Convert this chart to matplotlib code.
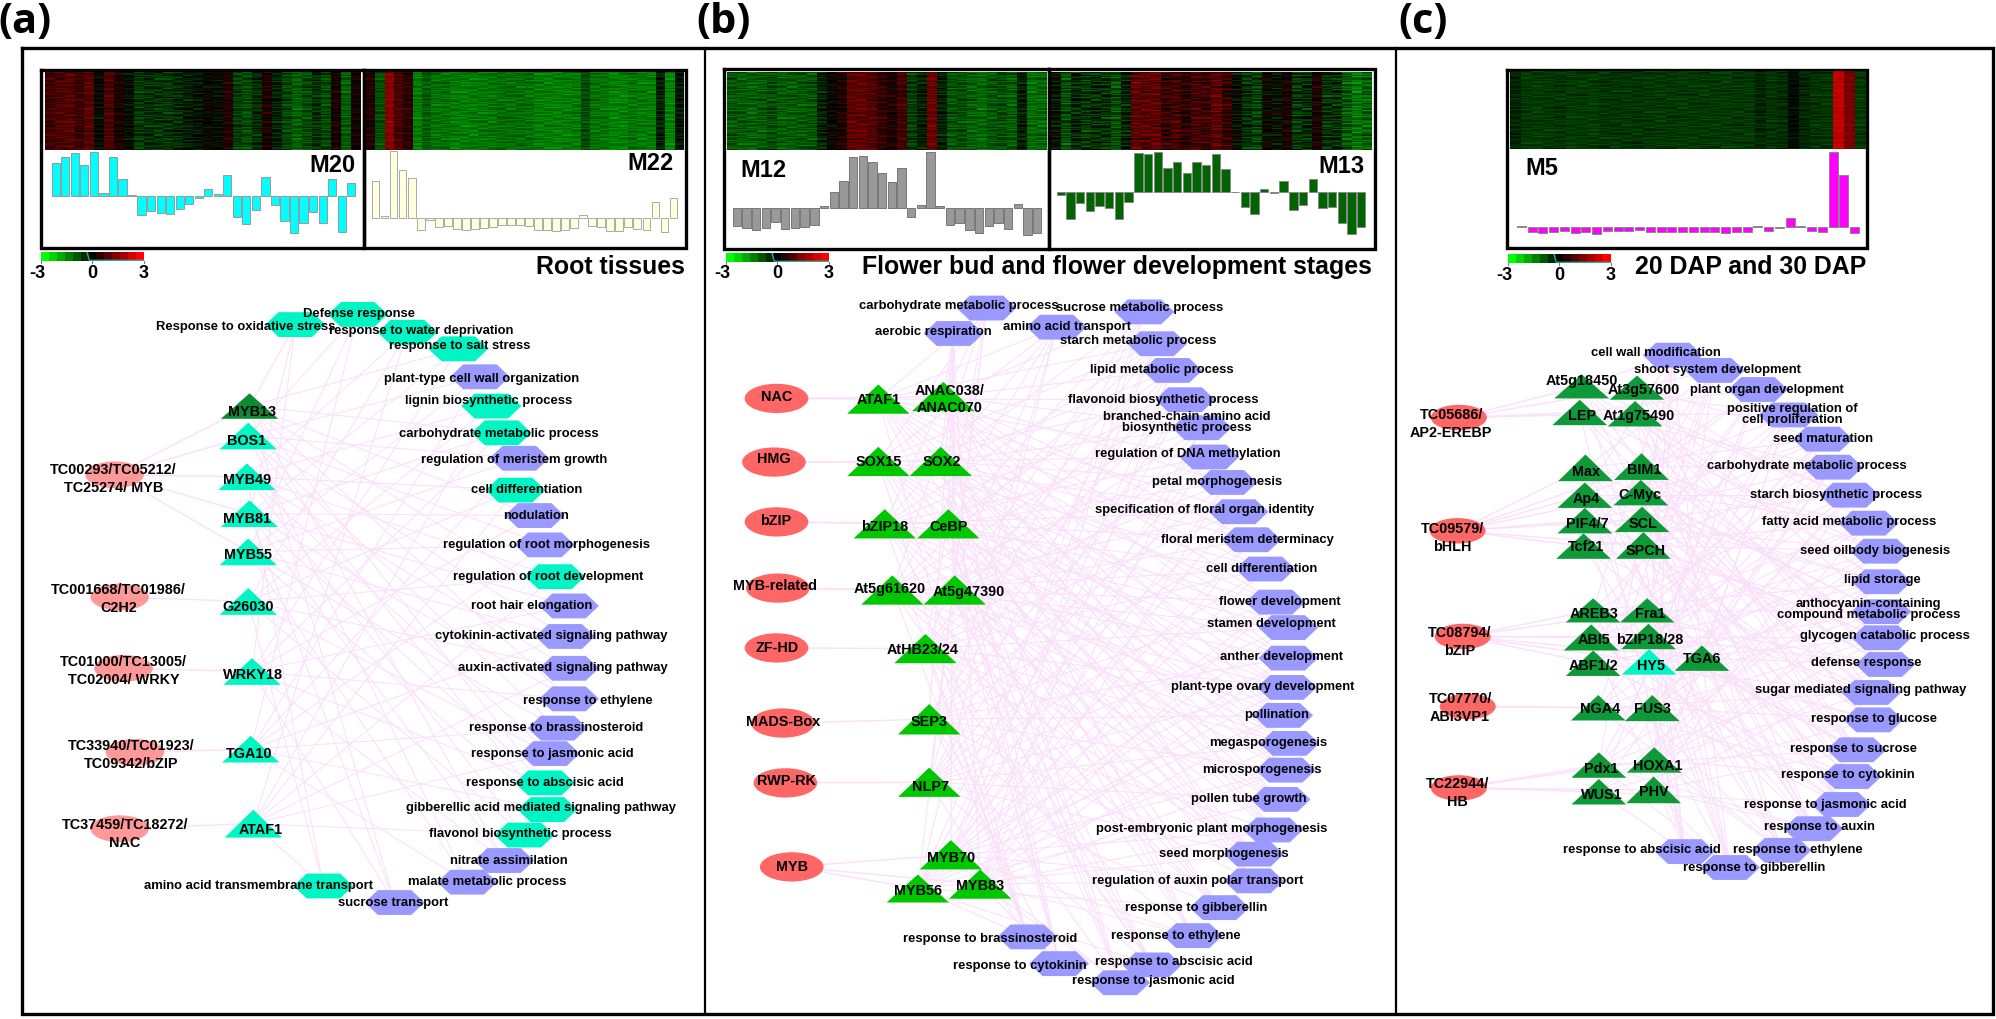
"""Co-expression modules (heatmap + bar profile) and TF / GO networks, three panels."""

import numpy as np
import matplotlib
matplotlib.use("Agg")
import matplotlib.pyplot as plt
from matplotlib.colors import LinearSegmentedColormap
from matplotlib.patches import Ellipse, Polygon

W, H = 1996, 1019
S = W / 1568

# Module bar profiles
M20 = [3.3, 3.9, 4.3, 3.1, 4.4, 0.3, 3.9, 1.7, 0.1, -1.9, -1.5, -1.7, -1.8, -1.3, -0.8, -0.2,
       0.7, 0.2, 2.1, -2.1, -2.8, -1.4, 1.9, -0.9, -2.5, -3.7, -2.7, -1.6, -2.7, 1.7, -3.6, 1.3]
M22 = [3.7, 0.2, 6.7, 4.8, 4.0, -1.2, -0.2, -0.9, -0.8, -1.1, -1.2, -1.1, -1.0, -0.9, -0.7, -0.7,
       -0.7, -0.8, -1.2, -1.2, -1.3, -1.2, -1.0, 0.3, -0.8, -0.9, -1.3, -1.3, -0.9, -1.1, -1.2, 1.6, -1.4, 2.0]
M12 = [-1.8, -2.0, -2.2, -2.0, -1.4, -2.1, -2.0, -1.9, -1.7, 0.2, 1.6, 2.7, 5.1, 5.2, 4.6, 3.5,
       2.6, 4.0, -0.9, 0.3, 5.6, 0.2, -1.7, -1.5, -2.2, -2.5, -1.8, -1.5, -2.1, 0.4, -2.7, -2.5]
M13 = [-0.3, -2.7, -1.1, -1.9, -1.4, -1.6, -2.7, -1.0, 3.9, 3.8, 4.0, 2.4, 3.0, 1.9, 3.0,
       2.7, 3.8, 2.3, 0.0, -1.5, -2.2, 0.3, -0.1, 1.1, -1.8, -1.3, 1.3, -1.6, -1.5, -3.1, -4.2, -3.5]
M5 = [0.05, -0.55, -0.65, -0.55, -0.4, -0.65, -0.55, -0.7, -0.4, -0.4, -0.45, -0.35, -0.5, -0.55, -0.5, -0.55,
      -0.55, -0.55, -0.55, -0.6, -0.5, -0.55, 0.05, -0.4, -0.15, 0.9, 0.03, -0.4, -0.5, 7.5, 5.2, -0.65]

# gene to gene variation in the heatmaps
STRIPES = [0.5, -0.3, 0.1, -0.6, 0.3, 0.7, -0.2, -0.5, 0.2, 0.0, -0.7, 0.4, 0.6, -0.1, -0.4, 0.3,
           -0.2, 0.8, -0.5, 0.1, 0.4, -0.6, 0.2, -0.3, 0.6, -0.1, 0.0, -0.4, 0.5, -0.8, 0.3]

# Panel a network
A_TF = ["TC00293/TC05212/\nTC25274/ MYB", "TC001668/TC01986/\nC2H2", "TC01000/TC13005/\nTC02004/ WRKY",
        "TC33940/TC01923/\nTC09342/bZIP", "TC37459/TC18272/\nNAC"]
A_TF_POS = [(90, 373, 89, 376), (94, 469, 93, 470.5), (97, 525, 97, 527), (106, 591, 103, 593), (94, 651, 98, 655)]
A_TF_LINKS = [[0, 1, 2, 3, 4], [5], [6], [7], [8]]
A_GENE = ["MYB13", "BOS1", "MYB49", "MYB81", "MYB55", "G26030", "WRKY18", "TGA10", "ATAF1"]
A_GENE_POS = [(196, 309, 329, 198, 323.5), (195, 332, 353, 194, 346.5), (194, 364, 385, 194, 377),
              (196, 393, 414, 194, 408), (195, 423, 444, 195, 436), (195, 462, 483, 195, 477),
              (198, 517, 538, 199, 530), (197, 578, 599, 196, 592), (199, 636, 658, 205, 652)]
A_GENE_DARK = [0]
A_GO = ["Response to oxidative stress", "Defense response", "response to water deprivation", "response to salt stress",
        "plant-type cell wall organization", "lignin biosynthetic process", "carbohydrate metabolic process",
        "regulation of meristem growth", "cell differentiation", "nodulation", "regulation of root morphogenesis",
        "regulation of root development", "root hair elongation", "cytokinin-activated signaling pathway",
        "auxin-activated signaling pathway", "response to ethylene", "response to brassinosteroid",
        "response to jasmonic acid", "response to abscisic acid", "gibberellic acid mediated signaling pathway",
        "flavonol biosynthetic process", "nitrate assimilation", "malate metabolic process",
        "amino acid transmembrane transport", "sucrose transport"]
A_GO_POS = [(193, 257, 232, 255), (282, 247, 281, 247), (331, 260, 320, 261), (361, 272, 360, 274),
            (378, 298, 377, 296), (384, 315, 386, 319), (392, 341, 394, 340), (404, 361, 408, 360),
            (414, 385, 405, 385), (421, 405, 420, 405), (429, 428, 428, 428), (431, 453, 436, 453),
            (418, 476, 447, 476), (433, 500, 444, 500), (442, 525, 447, 525), (462, 551, 447, 549),
            (437, 572, 438, 572), (434, 592, 432, 592), (428, 615, 428, 615), (425, 635, 430, 636),
            (409, 655, 412, 656), (400, 676, 396, 676), (383, 693, 367, 693), (203, 696, 254, 696),
            (309, 709, 310, 709)]
A_GO_TEAL = [0, 1, 2, 3, 5, 6, 8, 11, 18, 19, 20, 23]

# Panel b network
B_TF = ["NAC", "HMG", "bZIP", "MYB-related", "ZF-HD", "MADS-Box", "RWP-RK", "MYB"]
B_TF_POS = [(610, 313, 610, 312), (608, 363, 608, 360.5), (610, 410, 609.5, 409), (611, 462, 609, 460),
            (610, 509, 610.5, 509), (615, 568, 615, 567), (617, 615, 617.5, 613.5), (622, 681, 622, 681)]
B_TF_LINKS = [[0, 1], [2, 3], [4, 5], [6, 7], [8], [9], [10], [11, 12, 13]]
B_GENE = ["ATAF1", "ANAC038/\nANAC070", "SOX15", "SOX2", "bZIP18", "CeBP", "At5g61620", "At5g47390",
          "AtHB23/24", "SEP3", "NLP7", "MYB70", "MYB56", "MYB83"]
B_GENE_POS = [(690, 302, 325, 690, 314), (741, 300, 323, 746, 314), (690, 351, 374, 690.5, 363),
              (739, 351, 374, 740, 363), (695, 400, 423, 695, 414), (745, 400, 423, 745.5, 414),
              (701, 452, 475, 699, 463), (750, 452, 475, 761, 465), (727, 498, 521, 725, 511),
              (730, 553, 577, 730, 567), (730, 603, 626, 731, 618), (747, 660, 683, 747, 674),
              (721, 687, 709, 721, 700), (770, 683, 706, 770, 696)]
B_GO = ["carbohydrate metabolic process", "aerobic respiration", "amino acid transport", "sucrose metabolic process",
        "starch metabolic process", "lipid metabolic process", "flavonoid biosynthetic process",
        "branched-chain amino acid\nbiosynthetic process", "regulation of DNA methylation", "petal morphogenesis",
        "specification of floral organ identity", "floral meristem determinacy", "cell differentiation",
        "flower development", "stamen development", "anther development", "plant-type ovary development",
        "pollination", "megasporogenesis", "microsporogenesis", "pollen tube growth",
        "post-embryonic plant morphogenesis", "seed morphogenesis", "regulation of auxin polar transport",
        "response to gibberellin", "response to ethylene", "response to brassinosteroid", "response to cytokinin",
        "response to abscisic acid", "response to jasmonic acid"]
B_GO_POS = [(753, 240, 775, 242), (733, 261, 749, 262), (838, 257, 830, 257), (895, 242, 899, 245),
            (894, 268, 909, 270), (913, 291, 921, 291), (914, 314, 931, 314), (932, 332, 944, 336),
            (933, 357, 950, 359), (956, 378.5, 964, 379), (946, 401, 973, 402), (980, 424, 983, 424),
            (991, 447, 994, 447), (1005, 473, 1002, 473), (999, 490, 1012, 493), (1007, 516, 1012, 517),
            (992, 540, 1011, 540), (1003, 562, 1008, 562), (996, 584, 1013, 584), (991, 605, 1010, 605),
            (981, 628, 1006, 628), (952, 651, 1000, 652), (961, 671, 985, 671), (941, 692, 985, 692),
            (940, 713, 958, 713), (924, 735, 937, 735), (778, 738, 807, 736), (801, 759, 832, 757),
            (922, 756, 905, 758), (906, 771, 880, 772)]

# Panel c network
C_TF = ["TC05686/\nAP2-EREBP", "TC09579/\nbHLH", "TC08794/\nbZIP", "TC07770/\nABI3VP1", "TC22944/\nHB"]
C_TF_POS = [(1146, 328, 1140, 333), (1145, 417, 1141, 422.5), (1149, 500, 1147, 504.5),
            (1153, 555, 1147, 556), (1146, 619, 1145, 623)]
C_TF_LINKS = [[0, 1, 2, 3], [4, 5, 6, 7, 8, 9, 10, 11], [12, 13, 14, 15, 16, 17, 18], [19, 20], [21, 22, 23, 24]]
C_GENE = ["At5g18450", "At3g57600", "LEP", "At1g75490", "Max", "BIM1", "Ap4", "C-Myc", "PIF4/7", "SCL", "Tcf21", "SPCH",
          "AREB3", "Fra1", "ABI5", "bZIP18/28", "ABF1/2", "HY5", "TGA6", "NGA4", "FUS3", "Pdx1", "HOXA1", "WUS1", "PHV"]
C_GENE_POS = [(1242.5, 294, 313, 1243, 299), (1286, 295, 314, 1291, 306), (1241, 314, 334, 1243, 327),
              (1284.5, 315, 335, 1287, 327), (1245.5, 357, 378, 1246, 371), (1289.5, 356, 377, 1292, 369),
              (1245, 379, 399, 1246, 392), (1289, 377, 397, 1288, 389), (1245, 399, 419, 1247, 412),
              (1290, 398, 418, 1291, 412), (1244, 419, 439, 1246, 430), (1291, 418, 439, 1293, 433),
              (1251.5, 470, 489, 1252, 482), (1294, 470, 489, 1296, 482), (1250, 490.5, 511, 1252, 503),
              (1295, 490, 510, 1296, 502.5), (1251.5, 511, 531, 1252, 523.5), (1295.5, 510, 530, 1297, 523.5),
              (1337, 507, 527, 1337, 518), (1255.5, 546, 566, 1257, 557), (1298, 546, 566.5, 1298, 557),
              (1256, 591, 611, 1258, 604), (1299.5, 587, 607, 1302, 602), (1256, 612, 632, 1258, 624.5),
              (1299, 610, 631, 1299.5, 622)]
C_GENE_TEAL = [17]
C_GO = ["cell wall modification", "shoot system development", "plant organ development",
        "positive regulation of\ncell proliferation", "seed maturation", "carbohydrate metabolic process",
        "starch biosynthetic process", "fatty acid metabolic process", "seed oilbody biogenesis", "lipid storage",
        "anthocyanin-containing\ncompound metabolic process", "glycogen catabolic process", "defense response",
        "sugar mediated signaling pathway", "response to glucose", "response to sucrose", "response to cytokinin",
        "response to jasmonic acid", "response to auxin", "response to ethylene", "response to abscisic acid",
        "response to gibberellin"]
C_GO_POS = [(1301, 277.5, 1314, 279), (1349, 291, 1347, 291), (1388, 306, 1381, 306), (1408, 325.5, 1405, 326),
            (1432, 345, 1432, 345), (1419.5, 366, 1440, 367), (1442, 389, 1453, 389), (1453, 410, 1468, 411),
            (1473, 433, 1477, 433), (1478.5, 456, 1478, 457), (1468, 478.5, 1478, 480.5), (1481, 500, 1478, 501),
            (1466, 521, 1481, 522), (1462, 542, 1470, 544), (1472, 565, 1471.5, 565.5), (1456, 588, 1458.5, 589),
            (1451.5, 609, 1454.5, 610), (1434, 632, 1446.5, 632), (1429.5, 650, 1424.5, 651), (1412, 668, 1399.5, 668),
            (1290, 668, 1323.5, 669), (1378, 681.5, 1359, 681.5)]

FONT = "Liberation Sans"
PURPLE, TEAL, EDGE = "#9999FF", "#00F5C4", "#FBDFFB"
CMAP = LinearSegmentedColormap.from_list("gbr", ["#00FF00", "#000000", "#FF0000"])

fig = plt.figure(figsize=(W / 100, H / 100), dpi=100)
ax = fig.add_axes([0, 0, 1, 1])
ax.set_xlim(0, W)
ax.set_ylim(H, 0)
ax.axis("off")


def px_axes(x0, y0, x1, y1):
    """Axes placed by pixel box, y counted from the top."""
    a = fig.add_axes([x0 / W, 1 - y1 / H, (x1 - x0) / W, (y1 - y0) / H])
    a.axis("off")
    return a


def box(x0, y0, x1, y1, lw=2.4):
    ax.plot([x0, x1, x1, x0, x0], [y0, y0, y1, y1, y0], color="black", lw=lw, zorder=6, solid_joinstyle="miter")


def module(values, heat_box, bar_x, base, color, edge, gain, offset, stripe, name, name_xy):
    n = len(values)
    col = gain * np.array(values) + offset
    matrix = np.zeros((60, n))
    for r in range(60):
        for c in range(n):
            matrix[r, c] = col[c] + stripe * STRIPES[(r + 5 * c) % len(STRIPES)]
    hx = px_axes(*heat_box)
    hx.imshow(matrix, cmap=CMAP, vmin=-3, vmax=3, aspect="auto", interpolation="nearest")
    bx = px_axes(bar_x[0], base - 75, bar_x[1], base + 75)
    bx.bar(np.arange(n), values, width=0.86, color=color, edgecolor=edge, linewidth=0.7)
    bx.set_xlim(-0.5, n - 0.5)
    bx.set_ylim(-7.5, 7.5)
    ax.text(name_xy[0], name_xy[1], name, fontsize=17, fontweight="bold", family=FONT, ha="center", va="center", zorder=7)


def colorbar(x0, x1, y0, y1):
    cx = px_axes(x0, y0, x1, y1)
    cx.imshow(np.linspace(-3, 3, 13)[None, :], cmap=CMAP, vmin=-3, vmax=3, aspect="auto", interpolation="nearest")
    cx.plot([5.3, 5.6, 12.5], [-0.5, 0.42, 0.42], color="#25B8A8", lw=0.9)
    cx.set_xlim(-0.5, 12.5)
    cx.set_ylim(0.5, -0.5)
    for i, lab in enumerate(["-3", "0", "3"]):
        tx = x0 + (x1 - x0) * i / 2
        ax.plot([tx, tx], [y1, y1 + 2], color="#777777", lw=0.8)
        ax.text(tx - (4 if i == 0 else 0), y1 + 12, lab, fontsize=13, fontweight="bold", family=FONT, ha="center", va="center")


def hexagon(x, y, w=47, h=19.5, color=PURPLE):
    x, y = x * S, y * S
    w, h = w * S, h * S
    pts = [(x - w / 2, y), (x - w * 0.28, y - h / 2), (x + w * 0.28, y - h / 2),
           (x + w / 2, y), (x + w * 0.28, y + h / 2), (x - w * 0.28, y + h / 2)]
    ax.add_patch(Polygon(pts, closed=True, facecolor=color, edgecolor="none", zorder=3))


def network(tf, tf_pos, links, genes, gene_pos, go, go_pos, tf_color, tf_size, gene_color, tri_w, step,
            teal_go=(), special_gene=(), special_color=TEAL):
    for i, g in enumerate(gene_pos):
        for j in range(i % step, len(go_pos), step):
            ax.plot([g[0] * S, go_pos[j][2] * S], [(g[1] + g[2]) / 2 * S, go_pos[j][3] * S],
                    color=EDGE, lw=0.75, zorder=2)
    for i, row in enumerate(links):
        for k in row:
            ax.plot([tf_pos[i][0] * S, gene_pos[k][0] * S], [tf_pos[i][1] * S, (gene_pos[k][1] + gene_pos[k][2]) / 2 * S],
                    color=EDGE, lw=1.0, zorder=2)
    for name, p in zip(tf, tf_pos):
        ax.add_patch(Ellipse((p[0] * S, p[1] * S), tf_size[0] * S, tf_size[1] * S, facecolor=tf_color, edgecolor="none", zorder=3))
        ax.text(p[2] * S, p[3] * S, name, fontsize=10.4, fontweight="bold", family=FONT, ha="center", va="center",
                linespacing=1.35, zorder=5)
    for i, (name, p) in enumerate(zip(genes, gene_pos)):
        color = special_color if i in special_gene else gene_color
        pts = [((p[0] - tri_w / 2) * S, p[2] * S), (p[0] * S, p[1] * S), ((p[0] + tri_w / 2) * S, p[2] * S)]
        ax.add_patch(Polygon(pts, closed=True, facecolor=color, edgecolor="none", zorder=4))
        ax.text(p[3] * S, p[4] * S, name, fontsize=10.4, fontweight="bold", family=FONT, ha="center", va="center",
                linespacing=1.25, zorder=5)
    for i, (name, p) in enumerate(zip(go, go_pos)):
        hexagon(p[2], p[3], color=TEAL if i in teal_go else PURPLE)
        ax.text(p[0] * S, p[1] * S, name, fontsize=9.4, fontweight="bold", family=FONT, ha="center", va="center",
                linespacing=0.9, zorder=5)


# outer frame and panel letters
box(22, 48, 1993, 1014)
for x in [705, 1396]:
    ax.plot([x, x], [48, 1014], color="black", lw=1.6, zorder=6)
for lab, x in zip(["(a)", "(b)", "(c)"], [25, 724, 1423]):
    ax.text(x, 22, lab, fontsize=30, fontweight="bold", family="Open Sans", ha="center", va="center")

# modules
module(M20, (45, 72, 361, 150), (51, 356), 196, "#00FFFF", "#999999", 0.26, -0.15, 0.6, "M20", (332, 165))
module(M22, (366, 72, 684, 150), (371, 678), 218.3, "#FFFFDD", "#AAAAAA", 0.38, -1.0, 0.5, "M22", (651, 163))
module(M12, (727, 72, 1047, 150), (732, 1042), 207.7, "#999999", "#777777", 0.3, -0.45, 0.6, "M12", (763, 170))
module(M13, (1051, 72, 1372, 150), (1056, 1366), 192.3, "#006400", "#888888", 0.3, -0.1, 0.8, "M13", (1341, 166))
module(M5, (1510, 71, 1865, 149), (1516, 1860), 226.7, "#FF00FF", "#888888", 0.36, -0.45, 0.35, "M5", (1542, 168))
box(41, 70, 364, 248)
box(364, 70, 686, 248)
box(724, 69, 1049, 249)
box(1049, 69, 1375, 249)
box(1507, 70, 1867, 248)

colorbar(41, 144, 252, 261)
colorbar(726, 829, 253, 262)
colorbar(1508, 1611, 254, 263)

for text, x in zip(["Root tissues", "Flower bud and flower development stages", "20 DAP and 30 DAP"], [685, 1372, 1866]):
    ax.text(x, 267, text, fontsize=17.9, fontweight="bold", family=FONT, ha="right", va="center")

network(A_TF, A_TF_POS, A_TF_LINKS, A_GENE, A_GENE_POS, A_GO, A_GO_POS, "#FF9999", (46, 21),
        TEAL, 45, 3, teal_go=A_GO_TEAL, special_gene=A_GENE_DARK, special_color="#0B8C30")
network(B_TF, B_TF_POS, B_TF_LINKS, B_GENE, B_GENE_POS, B_GO, B_GO_POS, "#FF6666", (50, 23), "#00C800", 49, 2)
network(C_TF, C_TF_POS, C_TF_LINKS, C_GENE, C_GENE_POS, C_GO, C_GO_POS, "#FF6666", (44, 20), "#0E9A38", 43, 3,
        special_gene=C_GENE_TEAL)

fig.savefig("out.png", dpi=100)
